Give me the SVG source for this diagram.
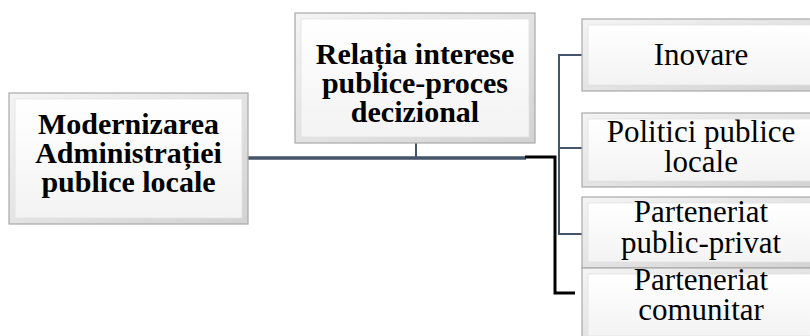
<svg xmlns="http://www.w3.org/2000/svg" width="810" height="336" viewBox="0 0 810 336">
<defs>
<linearGradient id="face" x1="0" y1="0" x2="0" y2="1">
<stop offset="0" stop-color="#ffffff"/>
<stop offset="1" stop-color="#f3f3f3"/>
</linearGradient>
<linearGradient id="edge" x1="0" y1="0" x2="1" y2="1">
<stop offset="0" stop-color="#f4f4f4"/>
<stop offset="1" stop-color="#d2d2d2"/>
</linearGradient>
</defs>
<style>
.outer{fill:url(#edge);stroke:#a9a9a9;stroke-width:1.2}
.inner{fill:url(#face);stroke:#e2e2e2;stroke-width:0.8}
.b{font-family:"Liberation Serif","Times New Roman",serif;font-weight:bold;font-size:30px;fill:#000;text-anchor:middle}
.r{font-family:"Liberation Serif","Times New Roman",serif;font-size:31px;fill:#000;text-anchor:middle}
.slate{stroke:#44546A;fill:none}
.blk{stroke:#000;fill:none}
</style>
<g id="connectors">
<line class="slate" x1="248" y1="158" x2="526" y2="158" stroke-width="3.5"/>
<line class="slate" x1="416" y1="143" x2="416" y2="158" stroke-width="2"/>
<polyline class="blk" points="525,157 555,157 555,293 575,293" stroke-width="3"/>
<line class="slate" x1="559" y1="54" x2="559" y2="235" stroke-width="2"/>
<line class="slate" x1="558" y1="55" x2="583" y2="55" stroke-width="2"/>
<line class="slate" x1="558" y1="148" x2="583" y2="148" stroke-width="2"/>
<line class="slate" x1="558" y1="234" x2="583" y2="234" stroke-width="2"/>
</g>
<g id="node-modernizarea">
<rect class="outer" x="9" y="93" width="239" height="131"/>
<rect class="inner" x="15" y="99" width="227" height="119"/>
<text class="b" x="128.5" y="134">Modernizarea</text>
<text class="b" x="128.5" y="163">Administrației</text>
<text class="b" x="128.5" y="192">publice locale</text>
</g>
<g id="node-relatia">
<rect class="outer" x="295" y="13" width="240" height="130"/>
<rect class="inner" x="301" y="19" width="228" height="118"/>
<text class="b" x="415" y="64">Relația interese</text>
<text class="b" x="415" y="93">publice-proces</text>
<text class="b" x="415" y="122">decizional</text>
</g>
<g id="node-inovare">
<rect class="outer" x="582" y="19" width="240" height="72"/>
<rect class="inner" x="588" y="25" width="228" height="60"/>
<text class="r" x="701" y="65">Inovare</text>
</g>
<g id="node-politici">
<rect class="outer" x="582" y="113" width="240" height="74"/>
<rect class="inner" x="588" y="119" width="228" height="62"/>
<text class="r" x="701" y="142">Politici publice</text>
<text class="r" x="701" y="172">locale</text>
</g>
<g id="node-ppp">
<rect class="outer" x="582" y="197" width="240" height="71"/>
<rect class="inner" x="588" y="203" width="228" height="59"/>
<text class="r" x="701" y="222">Parteneriat</text>
<text class="r" x="701" y="253">public-privat</text>
</g>
<g id="node-comunitar">
<rect class="outer" x="582" y="268" width="240" height="74"/>
<rect class="inner" x="588" y="274" width="228" height="62"/>
<text class="r" x="701" y="290">Parteneriat</text>
<text class="r" x="701" y="320">comunitar</text>
</g>
</svg>
